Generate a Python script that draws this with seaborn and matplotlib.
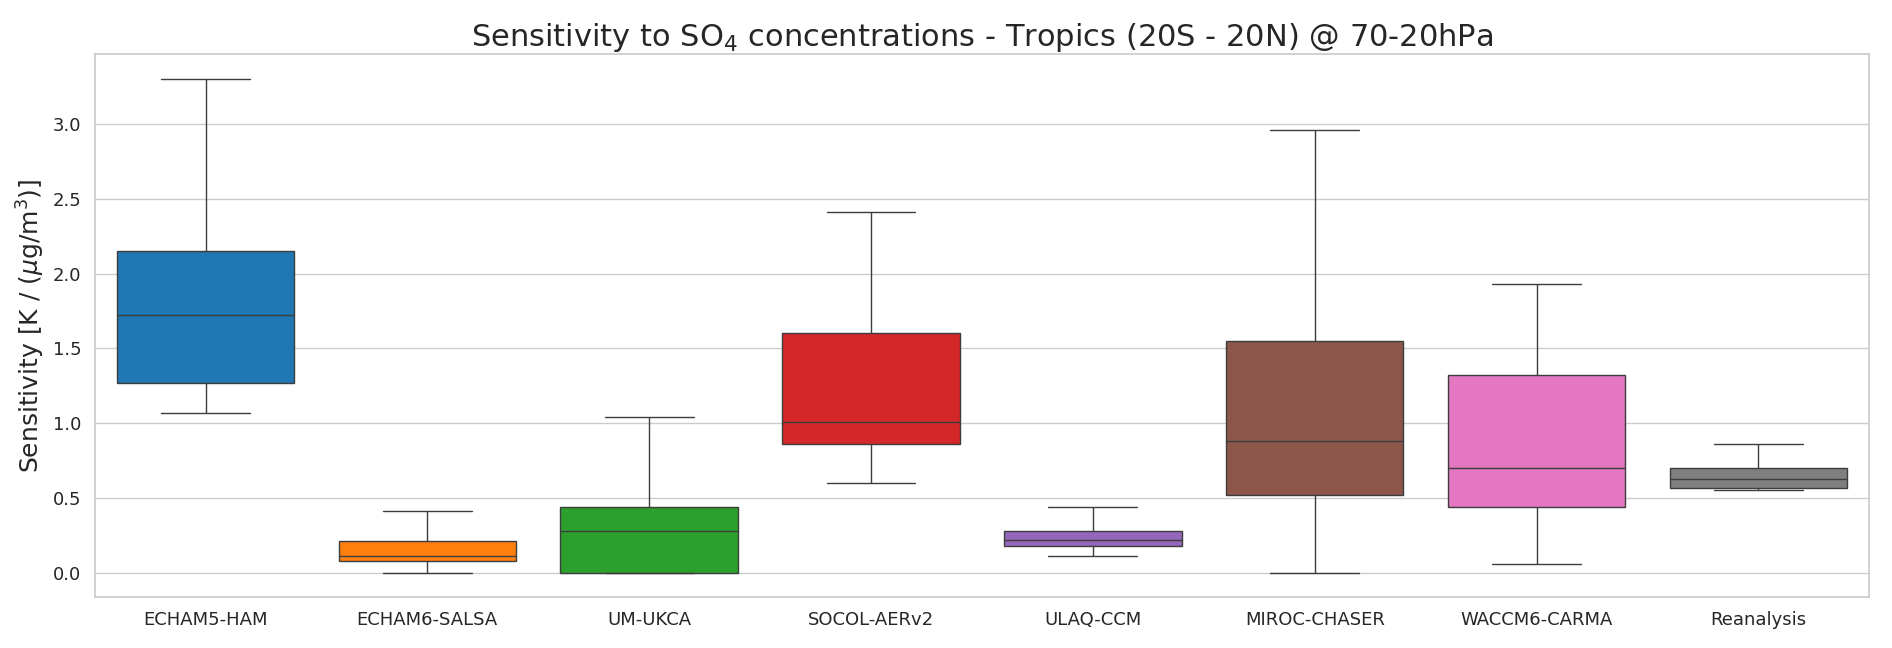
import numpy as np
import pandas as pd
import matplotlib
matplotlib.use("Agg")
import matplotlib.pyplot as plt
import seaborn as sns

models = ["ECHAM5-HAM", "ECHAM6-SALSA", "UM-UKCA", "SOCOL-AERv2", "ULAQ-CCM",
          "MIROC-CHASER", "WACCM6-CARMA", "Reanalysis"]
# five-number summaries: min, q1, median, q3, max
echam5 = [1.07, 1.27, 1.72, 2.15, 3.30]
echam6 = [0.00, 0.08, 0.11, 0.21, 0.41]
umukca = [0.00, 0.00, 0.28, 0.44, 1.04]
socol = [0.60, 0.86, 1.01, 1.60, 2.41]
ulaq = [0.11, 0.18, 0.22, 0.28, 0.44]
miroc = [0.00, 0.52, 0.88, 1.55, 2.96]
waccm = [0.06, 0.44, 0.70, 1.32, 1.93]
reanalysis = [0.55, 0.57, 0.63, 0.70, 0.86]
values = [echam5, echam6, umukca, socol, ulaq, miroc, waccm, reanalysis]

rows = [(m, v) for m, vals in zip(models, values) for v in vals]
df = pd.DataFrame(rows, columns=["model", "sens"])

sns.set_theme(style="whitegrid")
fig, ax = plt.subplots(figsize=(18.92, 6.48), dpi=100)
sns.boxplot(data=df, x="model", y="sens", hue="model", palette="tab10",
            whis=(0, 100), saturation=1, legend=False, ax=ax)
ax.set_xlabel("")
ax.set_ylabel(r"Sensitivity [K / ($\mu$g/m$^3$)]", fontsize=18)
ax.set_title(r"Sensitivity to SO$_4$ concentrations - Tropics (20S - 20N) @ 70-20hPa", fontsize=22)
ax.tick_params(labelsize=13)
fig.subplots_adjust(left=0.05, right=0.988, top=0.916, bottom=0.078)
fig.savefig("out.png", dpi=100)
